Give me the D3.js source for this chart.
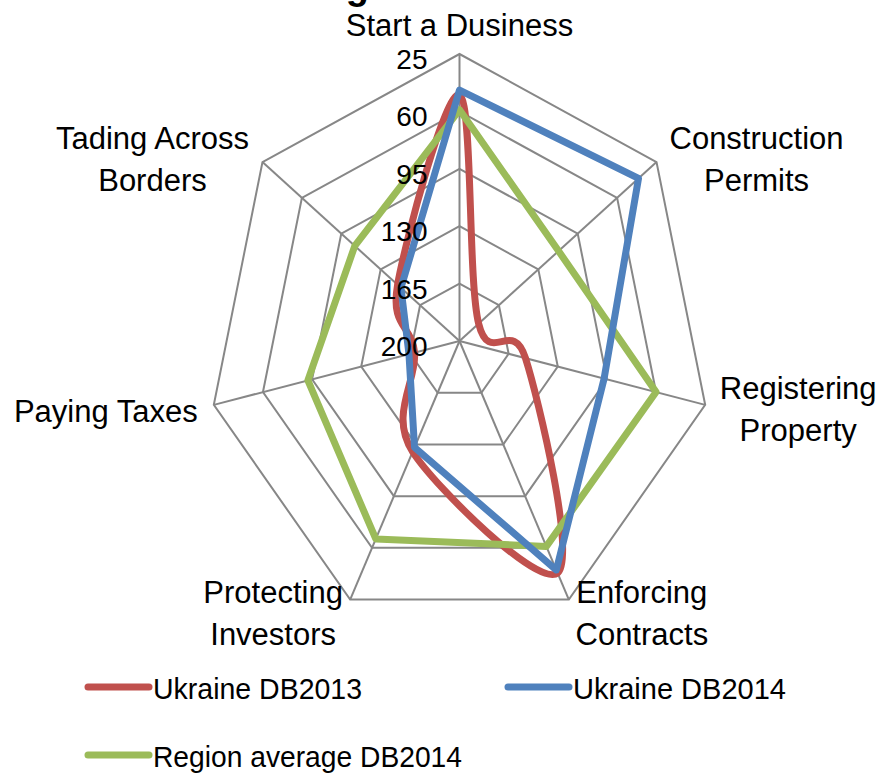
<!DOCTYPE html>
<html>
<head>
<meta charset="utf-8">
<style>
  body { margin: 0; background: #fff; }
  svg text { font-family: "Liberation Sans", Arial, sans-serif; fill: #000; }
</style>
</head>
<body>
<svg width="881" height="775"></svg>
<script src="https://d3js.org/d3.v7.min.js"></script>
<script>

// categories (axis labels, typos kept as in the original)
var categories = [
  ["Start a Dusiness"],
  ["Construction", "Permits"],
  ["Registering", "Property"],
  ["Enforcing", "Contracts"],
  ["Protecting", "Investors"],
  ["Paying Taxes"],
  ["Tading Across", "Borders"]
];

// rank values
var ukraine2013 = [50, 183, 153, 43, 125, 168, 145];
var ukraine2014 = [47, 41, 97, 45, 128, 164, 148];
var regionAvg2014 = [59, 112, 60, 61, 66, 92, 107];

var tickValues = [25, 60, 95, 130, 165, 200];

var seriesNames = ["Ukraine DB2013", "Ukraine DB2014", "Region average DB2014"];
var seriesColors = ["#C0504D", "#4F81BD", "#9BBB59"];

var svg = d3.select("svg");

// the picture is stretched a bit vertically, so two radii
var cx = 459.5, cy = 341, Rx = 252, Ry = 287;
var rx = d3.scaleLinear().domain([200, 25]).range([0, Rx]);
var ry = d3.scaleLinear().domain([200, 25]).range([0, Ry]);
var n = categories.length;
var angle = function(i) { return i * 2 * Math.PI / n; };

function pt(v, i) {
  return [cx + rx(v) * Math.sin(angle(i)), cy - ry(v) * Math.cos(angle(i))];
}

// title, cut off at the top edge (only the descender shows)
svg.append("text")
  .attr("x", 369).attr("y", -1)
  .attr("text-anchor", "end")
  .style("font-weight", "bold")
  .style("font-size", "38px")
  .text("Ranking");

// grid rings
var grid = svg.append("g")
  .attr("fill", "none")
  .attr("stroke", "#878787")
  .attr("stroke-width", 2);

tickValues.slice(0, -1).forEach(function(t) {
  grid.append("path")
    .attr("d", d3.line()(d3.range(n).map(function(i) { return pt(t, i); })) + "Z");
});

// spokes
d3.range(n).forEach(function(i) {
  var p = pt(25, i);
  grid.append("line")
    .attr("x1", cx).attr("y1", cy)
    .attr("x2", p[0]).attr("y2", p[1]);
});

// series
var series = [ukraine2013, ukraine2014, regionAvg2014];
var curves = [d3.curveCardinalClosed.tension(0), d3.curveLinearClosed, d3.curveLinearClosed];
var drawOrder = [0, 2, 1];

drawOrder.forEach(function(s) {
  var line = d3.line().curve(curves[s]);
  svg.append("path")
    .attr("d", line(series[s].map(function(v, i) { return pt(v, i); })))
    .attr("fill", "none")
    .attr("stroke", seriesColors[s])
    .attr("stroke-width", 7)
    .attr("stroke-linejoin", "round");
});

// tick labels along the top spoke, drawn over the lines
svg.selectAll(".tick")
  .data(tickValues)
  .enter().append("text")
    .attr("class", "tick")
    .attr("x", cx - 32)
    .attr("y", function(d) { return cy - ry(d) + 15; })
    .attr("text-anchor", "end")
    .style("font-size", "28px")
    .text(function(d) { return d; });

// axis labels, offset from the outer ring vertex
var labelOffset = [[0, -18], [100, -13], [93, -6], [73, 3], [-77, 3], [-108, 17], [-110, -13]];

categories.forEach(function(lines, i) {
  var p = pt(25, i);
  var t = svg.append("text")
    .attr("text-anchor", "middle")
    .style("font-size", "31px");
  lines.forEach(function(s, j) {
    t.append("tspan")
      .attr("x", p[0] + labelOffset[i][0])
      .attr("y", p[1] + labelOffset[i][1] + j * 42)
      .text(s);
  });
});

// legend
var legendPos = [[85, 687], [505, 687], [85, 755]];
var legendWidth = [209, 213, 309];

seriesNames.forEach(function(name, s) {
  var g = svg.append("g")
    .attr("transform", "translate(" + legendPos[s][0] + "," + legendPos[s][1] + ")");
  g.append("line")
    .attr("x1", 3).attr("x2", 64)
    .attr("stroke", seriesColors[s])
    .attr("stroke-width", 7)
    .attr("stroke-linecap", "round");
  g.append("text")
    .attr("x", 68)
    .attr("y", 12)
    .attr("textLength", legendWidth[s])
    .attr("lengthAdjust", "spacingAndGlyphs")
    .style("font-size", "30px")
    .text(name);
});

</script>
</body>
</html>
